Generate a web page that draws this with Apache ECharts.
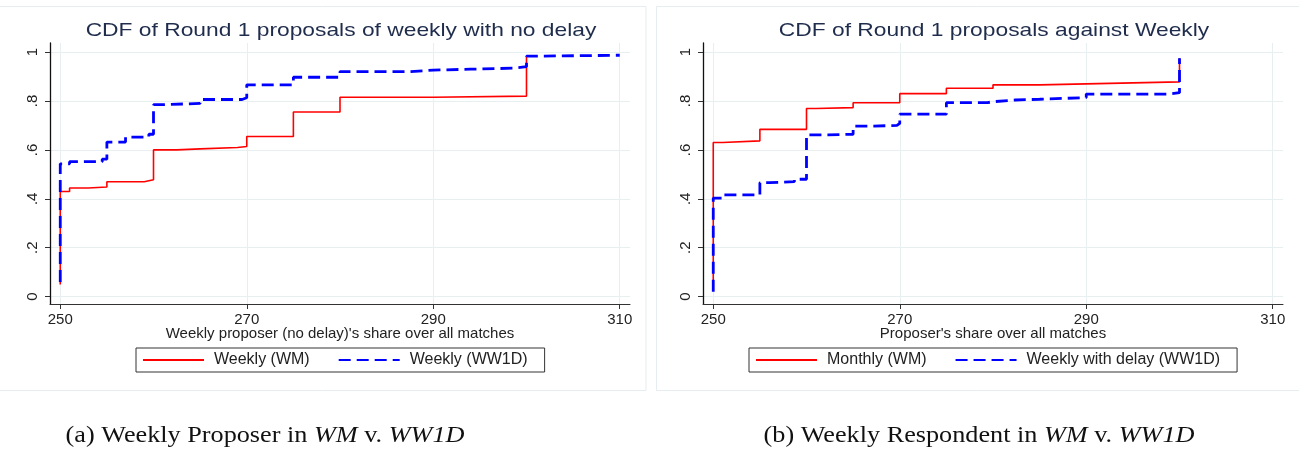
<!DOCTYPE html>
<html style="height: 100%">
<head>
    <meta charset="utf-8">
    <title>CDF of Round 1 proposals</title>
</head>
<body style="height: 100%; margin: 0; background: #ffffff">
<div id="container" style="width: 1299px; height: 450px"></div>
<script type="text/javascript" src="https://cdn.jsdelivr.net/npm/echarts@6/dist/echarts.min.js"></script>
<script type="text/javascript">
    // axis ticks shared by both panels
    var xTicks = [250, 270, 290, 310];
    var yTicks = [0, 0.2, 0.4, 0.6, 0.8, 1];
    var yTickText = ['0', '.2', '.4', '.6', '.8', '1'];

    // panel (a): weekly proposer, no delay
    var wmLeftX = [250, 250, 251, 253, 255, 259, 260, 262.5, 265, 269, 270, 275, 280, 290, 300];
    var wmLeftY = [0.05, 0.43, 0.444, 0.448, 0.47, 0.478, 0.60, 0.604, 0.61, 0.614, 0.655, 0.755, 0.815, 0.82, 0.98];
    var ww1dLeftX = [250, 250, 251, 254.5, 255, 257, 259.5, 260, 261, 265, 269.5, 270, 275, 280, 287.5, 290, 294, 298.5, 300, 300.6, 310];
    var ww1dLeftY = [0.06, 0.543, 0.552, 0.562, 0.632, 0.652, 0.664, 0.785, 0.79, 0.806, 0.813, 0.866, 0.897, 0.92, 0.926, 0.93, 0.934, 0.94, 0.983, 0.987, 0.987];

    // panel (b): weekly respondent
    var wmRightX = [250, 250, 251, 255, 260, 261, 265, 270, 275, 280, 285, 290, 295, 300];
    var wmRightY = [0.065, 0.63, 0.637, 0.684, 0.769, 0.773, 0.793, 0.83, 0.852, 0.866, 0.87, 0.874, 0.878, 0.975];
    var ww1dRightX = [250, 250, 251, 255, 256, 258.7, 260, 262.3, 265, 267, 269.7, 270, 275, 279.4, 280, 282.4, 285, 290, 298.7, 300];
    var ww1dRightY = [0.02, 0.403, 0.416, 0.466, 0.47, 0.48, 0.661, 0.664, 0.697, 0.70, 0.708, 0.746, 0.793, 0.797, 0.804, 0.807, 0.814, 0.828, 0.834, 0.975];

    var sansFont = 'Liberation Sans, Arial, sans-serif';
    var serifFont = 'Liberation Serif, Times New Roman, serif';
    var gridColor = '#e8eff1';

    function pairs(xs, ys) {
        return xs.map(function (x, i) { return [x, ys[i]]; });
    }

    function xAxisFor(grid, name) {
        return {
            type: 'value', gridIndex: grid, min: 248.9, max: 311.1,
            name: name, nameLocation: 'middle', nameGap: 22, nameMoveOverlap: false,
            nameTextStyle: {fontSize: 15, color: '#222', fontFamily: sansFont},
            axisLine: {show: true, onZero: false, lineStyle: {color: '#333', width: 1}},
            axisTick: {show: true, inside: false, length: 5, customValues: xTicks, lineStyle: {color: '#333'}},
            axisLabel: {show: true, customValues: xTicks, margin: 8, fontSize: 15, color: '#222', fontFamily: sansFont},
            splitLine: {show: true, lineStyle: {color: gridColor, width: 1}}
        };
    }

    function yAxisFor(grid) {
        return {
            type: 'value', gridIndex: grid, min: -0.03, max: 1.037,
            axisLine: {show: true, onZero: false, lineStyle: {color: '#111', width: 1.3}},
            axisTick: {show: true, inside: false, length: 5, customValues: yTicks, lineStyle: {color: '#333'}},
            axisLabel: {
                show: true, customValues: yTicks, rotate: 90, margin: 10,
                fontSize: 15, color: '#222', fontFamily: sansFont,
                formatter: function (v) { return yTickText[Math.round(v * 5)]; }
            },
            splitLine: {show: true, lineStyle: {color: gridColor, width: 1}}
        };
    }

    function stepSeries(name, idx, data, color, width, type) {
        return {
            name: name, type: 'line', step: 'end',
            xAxisIndex: idx, yAxisIndex: idx,
            symbol: 'none', showSymbol: false,
            lineStyle: {color: color, width: width, type: type},
            itemStyle: {color: color},
            data: data
        };
    }

    function legendFor(names, left) {
        return {
            data: names, left: left, top: 348, orient: 'horizontal',
            itemWidth: 61, itemHeight: 14, itemGap: 28,
            padding: [4, 17, 4, 6],
            borderColor: '#333', borderWidth: 1,
            selectedMode: false,
            itemStyle: {opacity: 0},
            textStyle: {fontSize: 16, color: '#222', fontFamily: sansFont, padding: [0, 0, 0, 5]}
        };
    }

    function headText(text, x) {
        return {
            type: 'text', x: x, y: 31, scaleX: 1.2,
            style: {text: text, align: 'center', verticalAlign: 'middle', fontSize: 19, fontFamily: sansFont, fill: '#1f2c4c'}
        };
    }

    function captionText(text, x) {
        return {
            type: 'text', x: x, y: 436, scaleX: 1.14,
            style: {
                text: text, align: 'center', verticalAlign: 'middle',
                fontSize: 23, fontFamily: serifFont, fill: '#111',
                rich: {i: {fontSize: 23, fontFamily: serifFont, fontStyle: 'italic', fill: '#111'}}
            }
        };
    }

    var dom = document.getElementById('container');
    var myChart = echarts.init(dom);
    var option = {
        animation: false,
        backgroundColor: '#ffffff',
        grid: [
            {left: 50, top: 43, width: 580, height: 261, outerBoundsMode: 'none'},
            {left: 703, top: 43, width: 580, height: 261, outerBoundsMode: 'none'}
        ],
        xAxis: [
            xAxisFor(0, "Weekly proposer (no delay)'s share over all matches"),
            xAxisFor(1, "Proposer's share over all matches")
        ],
        yAxis: [yAxisFor(0), yAxisFor(1)],
        legend: [
            legendFor(['Weekly (WM)', 'Weekly (WW1D)'], 136),
            legendFor(['Monthly (WM)', 'Weekly with delay (WW1D)'], 749)
        ],
        graphic: [
            {type: 'rect', shape: {x: -1, y: 6.5, width: 647, height: 384}, style: {fill: 'none', stroke: '#e6edf0', lineWidth: 1}, silent: true},
            {type: 'rect', shape: {x: 656.5, y: 6.5, width: 660, height: 384}, style: {fill: 'none', stroke: '#e6edf0', lineWidth: 1}, silent: true},
            headText('CDF of Round 1 proposals of weekly with no delay', 341),
            headText('CDF of Round 1 proposals against Weekly', 994),
            captionText('(a) Weekly Proposer in {i|WM} v. {i|WW1D}', 265),
            captionText('(b) Weekly Respondent in {i|WM} v. {i|WW1D}', 979)
        ],
        series: [
            stepSeries('Weekly (WM)', 0, pairs(wmLeftX, wmLeftY), '#ff0000', 1.6, 'solid'),
            stepSeries('Weekly (WW1D)', 0, pairs(ww1dLeftX, ww1dLeftY), '#0000ff', 2.8, [12, 6]),
            stepSeries('Monthly (WM)', 1, pairs(wmRightX, wmRightY), '#ff0000', 1.6, 'solid'),
            stepSeries('Weekly with delay (WW1D)', 1, pairs(ww1dRightX, ww1dRightY), '#0000ff', 2.8, [12, 6])
        ]
    };
    myChart.setOption(option, true);
</script>
</body>
</html>
